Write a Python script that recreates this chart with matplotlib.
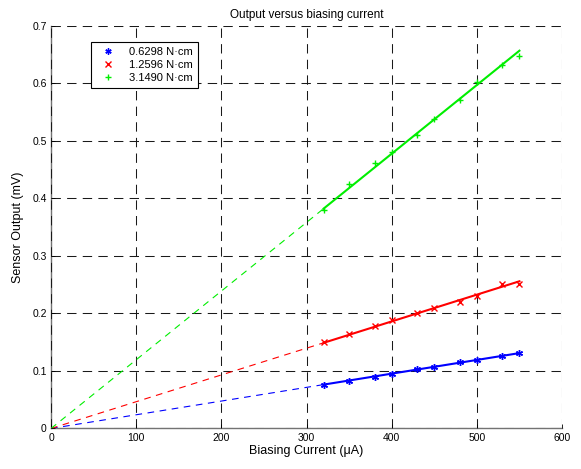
#-- sensor output vs biasing current, three torque loads --
import numpy as np
import matplotlib
matplotlib.use('Agg')
import matplotlib.pyplot as plt

plt.rcParams.update({'font.family'		: ['Liberation Sans', 'DejaVu Sans'],
					'font.size'			: 9,
					'xtick.labelsize'	: 7.5,
					'ytick.labelsize'	: 7.5,
					'axes.linewidth'	: 1.0})

current		= [320, 350, 380, 400, 430, 450, 480, 500, 530, 550]
out_0628	= [0.076, 0.083, 0.090, 0.095, 0.103, 0.107, 0.115, 0.119, 0.126, 0.132]
out_1260	= [0.150, 0.164, 0.179, 0.188, 0.200, 0.210, 0.220, 0.231, 0.251, 0.252]
out_3149	= [0.380, 0.425, 0.461, 0.480, 0.510, 0.539, 0.571, 0.602, 0.632, 0.648]
labels		= ['0.6298 N·cm', '1.2596 N·cm', '3.1490 N·cm']
colors		= ['blue', 'red', '#00ee00']
markers		= [(6, 2, 0), 'x', '+']
xticks		= [0, 100, 200, 300, 400, 500, 600]
yticks		= [0, 0.1, 0.2, 0.3, 0.4, 0.5, 0.6, 0.7]
ytlabels	= ['0', '0.1', '0.2', '0.3', '0.4', '0.5', '0.6', '0.7']

fig = plt.figure(figsize=(5.81, 4.69), dpi=100)
ax = fig.add_axes([0.0878, 0.0864, 0.8795, 0.8582])

x = np.array(current, dtype=float)
for ii, yy in enumerate([out_0628, out_1260, out_3149]):
	yy = np.array(yy)
	k = np.sum(x*yy)/np.sum(x*x)		# fit through origin
	ax.plot([0, x[0]], [0, k*x[0]], color=colors[ii], lw=0.8, ls=(0, (6, 5)), zorder=3)
	ax.plot([x[0], x[-1]], [k*x[0], k*x[-1]], color=colors[ii], lw=1.5, zorder=3)
	ax.plot(x, yy, color=colors[ii], marker=markers[ii], ms=5, mew=1.0, ls='none',
			label=labels[ii], zorder=4)

ax.set_xlim(0, 600)
ax.set_ylim(0, 0.7)
ax.set_xticks(xticks)
ax.set_yticks(yticks)
ax.set_yticklabels(ytlabels)
ax.tick_params(direction='in', length=3, width=0.6, pad=3)
ax.grid(True, color='0.1', lw=0.75, ls=(0, (9, 6)))
for side in ['top', 'right']:
	ax.spines[side].set_visible(False)
for side in ['left', 'bottom']:
	ax.spines[side].set_color('0.45')
	ax.spines[side].set_zorder(0.5)

ax.set_title('Output versus biasing current', fontsize=8.5, pad=6)
ax.set_xlabel('Biasing Current (μA)', labelpad=2)
ax.set_ylabel('Sensor Output (mV)', labelpad=6)

leg = ax.legend(loc='upper left', bbox_to_anchor=(0.078, 0.96), borderaxespad=0,
				fontsize=8, fancybox=False, framealpha=1, edgecolor='black',
				handlelength=2.2, markerscale=0.9, labelspacing=0.25, borderpad=0.45)
leg.get_frame().set_linewidth(0.8)

plt.savefig('out.png', dpi=100)
